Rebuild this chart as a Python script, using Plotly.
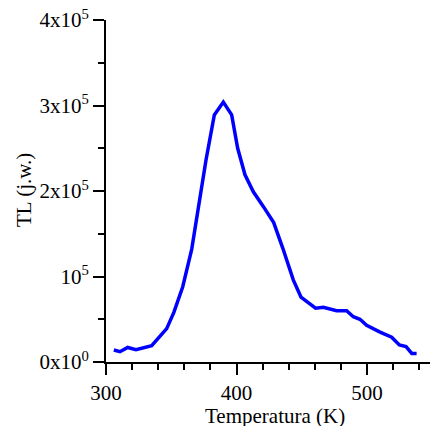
import plotly.graph_objects as go

temperature_K = [306, 310.7, 316.6, 323, 335, 346.5, 352, 358.8, 365.7, 370.7, 376.6, 383,
                 389.9, 396.3, 400.9, 406.5, 412.9, 420.5, 428.5, 435.5, 443.5, 449.4,
                 460.6, 466.5, 476.7, 484.4, 489.5, 494.6, 499.7, 510, 518.9, 524.8,
                 529.9, 534.3, 538]
tl_e5 = [0.14, 0.12, 0.17, 0.144, 0.19, 0.39, 0.58, 0.88, 1.32, 1.82, 2.36, 2.89,
         3.04, 2.89, 2.50, 2.19, 1.99, 1.82, 1.63, 1.33, 0.96, 0.76,
         0.63, 0.64, 0.60, 0.60, 0.53, 0.50, 0.43, 0.35, 0.29, 0.20,
         0.18, 0.10, 0.10]
tl = [v * 1e5 for v in tl_e5]

x_tickvals = [300, 400, 500]
x_ticktext = ["300", "400", "500"]
y_tickvals = [0, 1e5, 2e5, 3e5, 4e5]
y_ticktext = ["0x10<sup>0</sup>", "10<sup>5</sup>", "2x10<sup>5</sup>",
              "3x10<sup>5</sup>", "4x10<sup>5</sup>"]
x_title = "Temperatura (K)"
y_title = "TL (j.w.)"

font = dict(family="Liberation Serif", size=21, color="black")

fig = go.Figure(go.Scatter(x=temperature_K, y=tl, mode="lines",
                           line=dict(color="#0000FF", width=3.5), cliponaxis=False))

fig.update_layout(
    width=430, height=418,
    margin=dict(l=98, r=0, t=12, b=64, autoexpand=False),
    plot_bgcolor="white", paper_bgcolor="white",
    showlegend=False, font=font,
)
fig.update_xaxes(
    range=[300, 554.4], showgrid=False, zeroline=False, automargin=False,
    showline=True, linecolor="black", linewidth=2,
    ticks="outside", ticklen=11, tickwidth=2, tickcolor="black",
    tickvals=x_tickvals, ticktext=x_ticktext, tickfont=font,
    ticklabeloverflow="allow",
    minor=dict(dtick=20, tick0=300, ticks="outside", ticklen=6, tickwidth=2, tickcolor="black"),
)
fig.update_yaxes(
    range=[0, 4e5], showgrid=False, zeroline=False, automargin=False,
    showline=True, linecolor="black", linewidth=2,
    ticks="outside", ticklen=11, tickwidth=2, tickcolor="black",
    tickvals=y_tickvals, ticktext=y_ticktext, tickfont=font,
    ticklabeloverflow="allow",
    minor=dict(dtick=5e4, tick0=0, ticks="outside", ticklen=6, tickwidth=2, tickcolor="black"),
)
fig.add_annotation(text=x_title, xref="paper", yref="paper", x=0.509, y=-0.158,
                   xanchor="center", yanchor="middle", showarrow=False, font=font)
fig.add_annotation(text=y_title, xref="paper", yref="paper", x=-0.247, y=0.503,
                   xanchor="center", yanchor="middle", textangle=-90, showarrow=False, font=font)

fig.write_html("out.html")
